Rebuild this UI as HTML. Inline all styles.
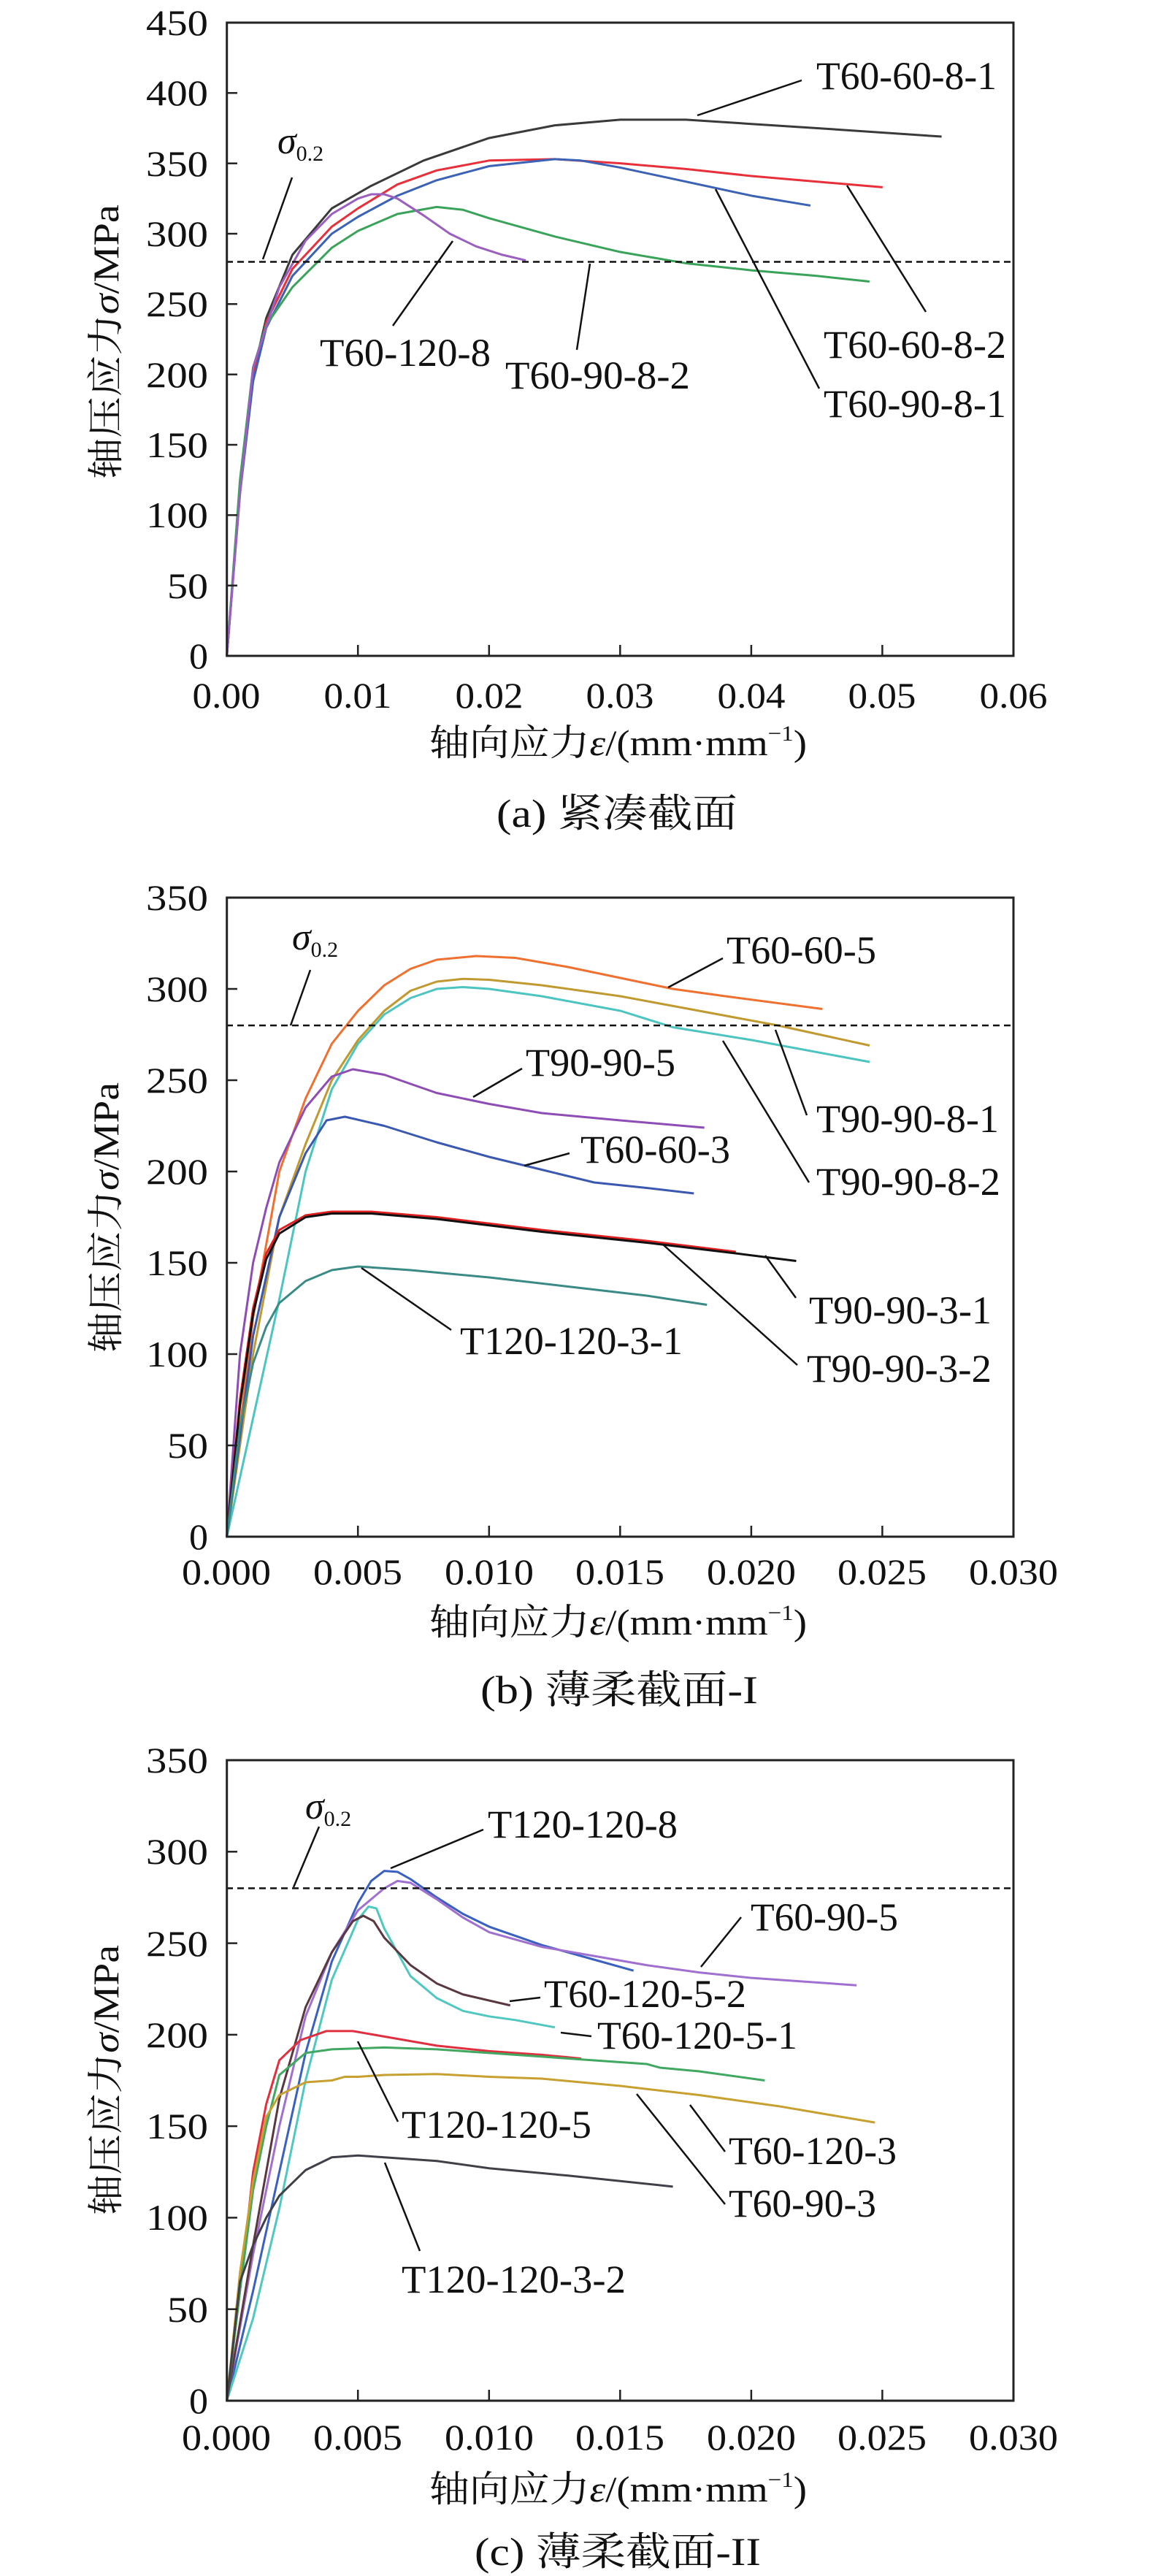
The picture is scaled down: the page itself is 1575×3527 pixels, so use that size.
<!DOCTYPE html>
<html><head><meta charset="utf-8"><style>
html,body{margin:0;padding:0;background:#fff;}
svg{display:block;}
text{font-family:"Liberation Serif","Noto Serif CJK SC",serif;fill:#111;}
.c{fill:none;stroke-width:3;vector-effect:non-scaling-stroke;stroke-linejoin:round;}
.ax{fill:none;stroke:#222;stroke-width:3;}
.ld{stroke:#111;stroke-width:2.5;}
.ds{stroke:#111;stroke-width:2.5;stroke-dasharray:9 6;}
</style></head><body>
<svg width="1575" height="3527" viewBox="0 0 1575 3527" xmlns="http://www.w3.org/2000/svg">
<!-- ================= Chart (a) ================= -->
<g transform="translate(310.7,898) scale(17961.7,-1.9267)">
<polyline class="c" stroke="#3a3a3a" points="0,0 0.001,120 0.002,200 0.003,240 0.005,285 0.008,318 0.011,334 0.015,352 0.02,368 0.025,377 0.03,381 0.035,381 0.04,378 0.045,375 0.0545,369"/>
<polyline class="c" stroke="#e8303a" points="0,0 0.001,118 0.002,198 0.003,237 0.005,275 0.008,305 0.01,318 0.013,335 0.016,345 0.02,352 0.025,353 0.03,350 0.035,346 0.04,341 0.045,337 0.05,333"/>
<polyline class="c" stroke="#3b62b5" points="0,0 0.001,115 0.002,195 0.003,233 0.005,270 0.008,300 0.01,312 0.013,327 0.016,338 0.02,348 0.025,353 0.027,352 0.03,347 0.035,337 0.04,327 0.0445,320"/>
<polyline class="c" stroke="#3aa35a" points="0,0 0.001,125 0.002,205 0.003,235 0.005,262 0.008,290 0.01,302 0.013,314 0.016,319 0.018,317 0.02,311 0.025,298 0.03,287 0.035,279 0.04,274 0.045,270 0.049,266"/>
<polyline class="c" stroke="#9b5fc0" points="0,0 0.001,115 0.002,205 0.004,262 0.006,295 0.008,314 0.01,325 0.011,328 0.012,328 0.013,325 0.015,313 0.017,300 0.019,291 0.021,285 0.0228,281"/>
</g>
<line class="ds" x1="310" y1="358.5" x2="1388" y2="358.5"/>
<rect class="ax" x="310.7" y="31" width="1077.3" height="867"/>
<g stroke="#222" stroke-width="2.5">
<line x1="310" y1="801.7" x2="325" y2="801.7"/><line x1="310" y1="705.3" x2="325" y2="705.3"/><line x1="310" y1="609" x2="325" y2="609"/><line x1="310" y1="512.7" x2="325" y2="512.7"/><line x1="310" y1="416.3" x2="325" y2="416.3"/><line x1="310" y1="320" x2="325" y2="320"/><line x1="310" y1="223.7" x2="325" y2="223.7"/><line x1="310" y1="127.3" x2="325" y2="127.3"/>
<line x1="490.2" y1="898" x2="490.2" y2="883"/><line x1="669.8" y1="898" x2="669.8" y2="883"/><line x1="849.3" y1="898" x2="849.3" y2="883"/><line x1="1028.9" y1="898" x2="1028.9" y2="883"/><line x1="1208.4" y1="898" x2="1208.4" y2="883"/>
</g>
<g font-size="50" text-anchor="end">
<text x="285" y="915" textLength="26" lengthAdjust="spacingAndGlyphs">0</text>
<text x="285" y="819" textLength="56" lengthAdjust="spacingAndGlyphs">50</text>
<text x="285" y="722" textLength="85" lengthAdjust="spacingAndGlyphs">100</text>
<text x="285" y="626" textLength="85" lengthAdjust="spacingAndGlyphs">150</text>
<text x="285" y="530" textLength="85" lengthAdjust="spacingAndGlyphs">200</text>
<text x="285" y="433" textLength="85" lengthAdjust="spacingAndGlyphs">250</text>
<text x="285" y="337" textLength="85" lengthAdjust="spacingAndGlyphs">300</text>
<text x="285" y="241" textLength="85" lengthAdjust="spacingAndGlyphs">350</text>
<text x="285" y="144" textLength="85" lengthAdjust="spacingAndGlyphs">400</text>
<text x="285" y="48" textLength="85" lengthAdjust="spacingAndGlyphs">450</text>
</g>
<g font-size="50" text-anchor="middle">
<text x="310" y="969" textLength="93" lengthAdjust="spacingAndGlyphs">0.00</text>
<text x="490" y="969" textLength="93" lengthAdjust="spacingAndGlyphs">0.01</text>
<text x="670" y="969" textLength="93" lengthAdjust="spacingAndGlyphs">0.02</text>
<text x="849" y="969" textLength="93" lengthAdjust="spacingAndGlyphs">0.03</text>
<text x="1029" y="969" textLength="93" lengthAdjust="spacingAndGlyphs">0.04</text>
<text x="1208" y="969" textLength="93" lengthAdjust="spacingAndGlyphs">0.05</text>
<text x="1388" y="969" textLength="93" lengthAdjust="spacingAndGlyphs">0.06</text>
</g>
<text x="588" y="1034" font-size="50" textLength="517" lengthAdjust="spacingAndGlyphs">轴向应力<tspan font-style="italic">ε</tspan>/(mm·mm<tspan font-size="30" dy="-20">−1</tspan><tspan dy="20">)</tspan></text>
<text transform="translate(162,468) rotate(-90)" text-anchor="middle" font-size="50" textLength="376" lengthAdjust="spacingAndGlyphs">轴压应力<tspan font-style="italic">σ</tspan>/MPa</text>
<text x="845" y="1132" text-anchor="middle" font-size="54" textLength="330" lengthAdjust="spacingAndGlyphs">(a) 紧凑截面</text>
<!-- annotations a -->
<text x="380" y="210" font-size="52" font-style="italic">σ<tspan font-size="30" font-style="normal" dy="10">0.2</tspan></text>
<line class="ld" x1="400" y1="243" x2="360" y2="355"/>
<g font-size="54">
<text x="1118" y="122" textLength="247" lengthAdjust="spacingAndGlyphs">T60-60-8-1</text>
<text x="1128" y="490" textLength="250" lengthAdjust="spacingAndGlyphs">T60-60-8-2</text>
<text x="1128" y="571" textLength="250" lengthAdjust="spacingAndGlyphs">T60-90-8-1</text>
<text x="438" y="501" textLength="234" lengthAdjust="spacingAndGlyphs">T60-120-8</text>
<text x="692" y="532" textLength="253" lengthAdjust="spacingAndGlyphs">T60-90-8-2</text>
</g>
<line class="ld" x1="1098" y1="110" x2="955" y2="158"/>
<line class="ld" x1="1160" y1="254" x2="1268" y2="427"/>
<line class="ld" x1="980" y1="259" x2="1122" y2="532"/>
<line class="ld" x1="620" y1="330" x2="538" y2="446"/>
<line class="ld" x1="808" y1="361" x2="790" y2="479"/>

<!-- ================= Chart (b) ================= -->
<g transform="translate(310.7,2104) scale(35933,-2.5)">
<polyline class="c" stroke="#f07030" points="0,0 0.001,120 0.002,200 0.003,240 0.004,270 0.005,288 0.006,302 0.007,311 0.008,316 0.0095,318 0.011,317 0.013,312 0.015,306 0.017,300 0.019,296 0.0227,289"/>
<polyline class="c" stroke="#c09a30" points="0,0 0.001,100 0.002,175 0.003,215 0.004,250 0.005,272 0.006,288 0.007,299 0.008,304 0.009,305.5 0.01,305 0.012,302 0.015,296 0.018,288 0.021,280 0.0245,269"/>
<polyline class="c" stroke="#4cc4c0" points="0,0 0.001,65 0.002,130 0.003,200 0.004,245 0.005,270 0.006,286 0.007,295 0.008,300 0.009,301 0.01,300 0.012,296 0.015,288 0.017,279 0.02,272 0.0245,260"/>
<polyline class="c" stroke="#8e4db5" points="0,0 0.0005,100 0.001,150 0.0015,180 0.002,205 0.003,235 0.004,252 0.0048,256 0.006,253 0.008,243 0.01,237 0.012,232 0.015,228 0.0182,224"/>
<polyline class="c" stroke="#3a58b0" points="0,0 0.001,110 0.002,175 0.003,210 0.0038,228 0.0045,230 0.006,225 0.008,216 0.01,208 0.012,201 0.014,194 0.016,191 0.0178,188"/>
<polyline class="c" stroke="#e02020" points="0,0 0.0005,75 0.001,125 0.0015,155 0.002,168 0.003,176 0.004,178 0.0055,178 0.008,175 0.012,168 0.016,162 0.0194,156"/>
<polyline class="c" stroke="#111" points="0,0 0.0005,72 0.001,122 0.0015,152 0.002,166 0.003,175 0.004,177 0.0055,177 0.008,174 0.012,167 0.016,161 0.0195,155 0.0217,151"/>
<polyline class="c" stroke="#3a8a85" points="0,0 0.0005,60 0.001,95 0.0015,115 0.002,128 0.003,140 0.004,146 0.005,148 0.007,146 0.01,142 0.013,137 0.016,132 0.0183,127"/>
</g>
<line class="ds" x1="310" y1="1404" x2="1388" y2="1404"/>
<rect class="ax" x="310.7" y="1229" width="1077.3" height="875"/>
<g stroke="#222" stroke-width="2.5">
<line x1="310" y1="1979" x2="325" y2="1979"/><line x1="310" y1="1854" x2="325" y2="1854"/><line x1="310" y1="1729" x2="325" y2="1729"/><line x1="310" y1="1604" x2="325" y2="1604"/><line x1="310" y1="1479" x2="325" y2="1479"/><line x1="310" y1="1354" x2="325" y2="1354"/>
<line x1="490.2" y1="2104" x2="490.2" y2="2089"/><line x1="669.8" y1="2104" x2="669.8" y2="2089"/><line x1="849.3" y1="2104" x2="849.3" y2="2089"/><line x1="1028.9" y1="2104" x2="1028.9" y2="2089"/><line x1="1208.4" y1="2104" x2="1208.4" y2="2089"/>
</g>
<g font-size="50" text-anchor="end">
<text x="285" y="2121" textLength="26" lengthAdjust="spacingAndGlyphs">0</text>
<text x="285" y="1996" textLength="56" lengthAdjust="spacingAndGlyphs">50</text>
<text x="285" y="1871" textLength="85" lengthAdjust="spacingAndGlyphs">100</text>
<text x="285" y="1746" textLength="85" lengthAdjust="spacingAndGlyphs">150</text>
<text x="285" y="1621" textLength="85" lengthAdjust="spacingAndGlyphs">200</text>
<text x="285" y="1496" textLength="85" lengthAdjust="spacingAndGlyphs">250</text>
<text x="285" y="1371" textLength="85" lengthAdjust="spacingAndGlyphs">300</text>
<text x="285" y="1246" textLength="85" lengthAdjust="spacingAndGlyphs">350</text>
</g>
<g font-size="50" text-anchor="middle">
<text x="310" y="2169" textLength="122" lengthAdjust="spacingAndGlyphs">0.000</text>
<text x="490" y="2169" textLength="122" lengthAdjust="spacingAndGlyphs">0.005</text>
<text x="670" y="2169" textLength="122" lengthAdjust="spacingAndGlyphs">0.010</text>
<text x="849" y="2169" textLength="122" lengthAdjust="spacingAndGlyphs">0.015</text>
<text x="1029" y="2169" textLength="122" lengthAdjust="spacingAndGlyphs">0.020</text>
<text x="1208" y="2169" textLength="122" lengthAdjust="spacingAndGlyphs">0.025</text>
<text x="1388" y="2169" textLength="122" lengthAdjust="spacingAndGlyphs">0.030</text>
</g>
<text x="588" y="2238" font-size="50" textLength="517" lengthAdjust="spacingAndGlyphs">轴向应力<tspan font-style="italic">ε</tspan>/(mm·mm<tspan font-size="30" dy="-20">−1</tspan><tspan dy="20">)</tspan></text>
<text transform="translate(162,1667) rotate(-90)" text-anchor="middle" font-size="50" textLength="370" lengthAdjust="spacingAndGlyphs">轴压应力<tspan font-style="italic">σ</tspan>/MPa</text>
<text x="848" y="2332" text-anchor="middle" font-size="54" textLength="380" lengthAdjust="spacingAndGlyphs">(b) 薄柔截面-I</text>
<text x="400" y="1300" font-size="52" font-style="italic">σ<tspan font-size="30" font-style="normal" dy="10">0.2</tspan></text>
<line class="ld" x1="425" y1="1328" x2="398" y2="1404"/>
<g font-size="54">
<text x="995" y="1319" textLength="205" lengthAdjust="spacingAndGlyphs">T60-60-5</text>
<text x="720" y="1473" textLength="205" lengthAdjust="spacingAndGlyphs">T90-90-5</text>
<text x="795" y="1592" textLength="205" lengthAdjust="spacingAndGlyphs">T60-60-3</text>
<text x="1118" y="1550" textLength="250" lengthAdjust="spacingAndGlyphs">T90-90-8-1</text>
<text x="1118" y="1636" textLength="252" lengthAdjust="spacingAndGlyphs">T90-90-8-2</text>
<text x="1108" y="1812" textLength="250" lengthAdjust="spacingAndGlyphs">T90-90-3-1</text>
<text x="1105" y="1892" textLength="253" lengthAdjust="spacingAndGlyphs">T90-90-3-2</text>
<text x="630" y="1854" textLength="305" lengthAdjust="spacingAndGlyphs">T120-120-3-1</text>
</g>
<line class="ld" x1="990" y1="1312" x2="915" y2="1352"/>
<line class="ld" x1="715" y1="1463" x2="648" y2="1502"/>
<line class="ld" x1="780" y1="1579" x2="718" y2="1596"/>
<line class="ld" x1="1105" y1="1527" x2="1062" y2="1410"/>
<line class="ld" x1="1108" y1="1619" x2="990" y2="1425"/>
<line class="ld" x1="1090" y1="1777" x2="1048" y2="1719"/>
<line class="ld" x1="1092" y1="1869" x2="908" y2="1704"/>
<line class="ld" x1="618" y1="1821" x2="495" y2="1736"/>

<!-- ================= Chart (c) ================= -->
<g transform="translate(310.7,3287) scale(35933,-2.5057)">
<polyline class="c" stroke="#3a60c0" points="0,0 0.001,60 0.002,125 0.003,190 0.004,240 0.005,272 0.0055,284 0.006,289.5 0.0065,289 0.007,285 0.008,275 0.009,266 0.01,259 0.012,249 0.014,241 0.0155,235"/>
<polyline class="c" stroke="#a070d0" points="0,0 0.001,80 0.002,150 0.003,210 0.004,245 0.005,268 0.006,280 0.0065,284 0.007,283 0.008,274 0.009,264 0.01,256 0.012,248 0.014,243 0.016,238 0.018,234 0.02,231 0.024,227"/>
<polyline class="c" stroke="#50c8c0" points="0,0 0.001,45 0.002,105 0.003,175 0.004,230 0.005,263 0.0054,270 0.0057,269 0.006,258 0.0065,245 0.007,232 0.008,220 0.009,213 0.01,210 0.011,208 0.0125,204"/>
<polyline class="c" stroke="#5a3840" points="0,0 0.001,85 0.002,165 0.003,215 0.004,245 0.0048,262 0.0052,265 0.0056,262 0.006,253 0.007,238 0.008,228 0.009,222 0.0108,216"/>
<polyline class="c" stroke="#e03040" points="0,0 0.0005,60 0.001,125 0.0015,162 0.002,186 0.0028,197 0.0038,202 0.0048,202 0.006,199 0.008,194 0.01,191 0.012,189 0.0135,187"/>
<polyline class="c" stroke="#40a860" points="0,0 0.0005,60 0.001,115 0.0015,150 0.002,178 0.003,190 0.004,192 0.006,193 0.008,192 0.01,190 0.012,188 0.015,185 0.016,184 0.0165,182 0.018,180 0.0205,175"/>
<polyline class="c" stroke="#c8a030" points="0,0 0.0005,70 0.001,120 0.0015,155 0.002,167 0.003,174 0.004,175 0.0045,177 0.005,177 0.006,178 0.008,178.5 0.01,177 0.012,176 0.015,172 0.018,167 0.021,161 0.0247,152"/>
<polyline class="c" stroke="#404048" points="0,0 0.0005,65 0.001,85 0.0015,100 0.002,112 0.003,126 0.004,133 0.005,134 0.006,133 0.008,131 0.01,127 0.013,123 0.017,117"/>
</g>
<line class="ds" x1="310" y1="2585.4" x2="1388" y2="2585.4"/>
<rect class="ax" x="310.7" y="2410" width="1077.3" height="877"/>
<g stroke="#222" stroke-width="2.5">
<line x1="310" y1="3161.7" x2="325" y2="3161.7"/><line x1="310" y1="3036.4" x2="325" y2="3036.4"/><line x1="310" y1="2911.1" x2="325" y2="2911.1"/><line x1="310" y1="2785.9" x2="325" y2="2785.9"/><line x1="310" y1="2660.6" x2="325" y2="2660.6"/><line x1="310" y1="2535.3" x2="325" y2="2535.3"/>
<line x1="490.2" y1="3287" x2="490.2" y2="3272"/><line x1="669.8" y1="3287" x2="669.8" y2="3272"/><line x1="849.3" y1="3287" x2="849.3" y2="3272"/><line x1="1028.9" y1="3287" x2="1028.9" y2="3272"/><line x1="1208.4" y1="3287" x2="1208.4" y2="3272"/>
</g>
<g font-size="50" text-anchor="end">
<text x="285" y="3304" textLength="26" lengthAdjust="spacingAndGlyphs">0</text>
<text x="285" y="3179" textLength="56" lengthAdjust="spacingAndGlyphs">50</text>
<text x="285" y="3053" textLength="85" lengthAdjust="spacingAndGlyphs">100</text>
<text x="285" y="2928" textLength="85" lengthAdjust="spacingAndGlyphs">150</text>
<text x="285" y="2803" textLength="85" lengthAdjust="spacingAndGlyphs">200</text>
<text x="285" y="2678" textLength="85" lengthAdjust="spacingAndGlyphs">250</text>
<text x="285" y="2552" textLength="85" lengthAdjust="spacingAndGlyphs">300</text>
<text x="285" y="2427" textLength="85" lengthAdjust="spacingAndGlyphs">350</text>
</g>
<g font-size="50" text-anchor="middle">
<text x="310" y="3354" textLength="122" lengthAdjust="spacingAndGlyphs">0.000</text>
<text x="490" y="3354" textLength="122" lengthAdjust="spacingAndGlyphs">0.005</text>
<text x="670" y="3354" textLength="122" lengthAdjust="spacingAndGlyphs">0.010</text>
<text x="849" y="3354" textLength="122" lengthAdjust="spacingAndGlyphs">0.015</text>
<text x="1029" y="3354" textLength="122" lengthAdjust="spacingAndGlyphs">0.020</text>
<text x="1208" y="3354" textLength="122" lengthAdjust="spacingAndGlyphs">0.025</text>
<text x="1388" y="3354" textLength="122" lengthAdjust="spacingAndGlyphs">0.030</text>
</g>
<text x="588" y="3425" font-size="50" textLength="517" lengthAdjust="spacingAndGlyphs">轴向应力<tspan font-style="italic">ε</tspan>/(mm·mm<tspan font-size="30" dy="-20">−1</tspan><tspan dy="20">)</tspan></text>
<text transform="translate(162,2848) rotate(-90)" text-anchor="middle" font-size="50" textLength="370" lengthAdjust="spacingAndGlyphs">轴压应力<tspan font-style="italic">σ</tspan>/MPa</text>
<text x="846" y="3512" text-anchor="middle" font-size="54" textLength="392" lengthAdjust="spacingAndGlyphs">(c) 薄柔截面-II</text>
<text x="418" y="2490" font-size="52" font-style="italic">σ<tspan font-size="30" font-style="normal" dy="10">0.2</tspan></text>
<line class="ld" x1="437" y1="2501" x2="402" y2="2584"/>
<g font-size="54">
<text x="668" y="2516" textLength="260" lengthAdjust="spacingAndGlyphs">T120-120-8</text>
<text x="1028" y="2643" textLength="202" lengthAdjust="spacingAndGlyphs">T60-90-5</text>
<text x="745" y="2748" textLength="277" lengthAdjust="spacingAndGlyphs">T60-120-5-2</text>
<text x="818" y="2805" textLength="274" lengthAdjust="spacingAndGlyphs">T60-120-5-1</text>
<text x="550" y="2927" textLength="260" lengthAdjust="spacingAndGlyphs">T120-120-5</text>
<text x="998" y="2963" textLength="230" lengthAdjust="spacingAndGlyphs">T60-120-3</text>
<text x="998" y="3035" textLength="202" lengthAdjust="spacingAndGlyphs">T60-90-3</text>
<text x="550" y="3139" textLength="307" lengthAdjust="spacingAndGlyphs">T120-120-3-2</text>
</g>
<line class="ld" x1="662" y1="2505" x2="535" y2="2558"/>
<line class="ld" x1="1015" y1="2625" x2="960" y2="2693"/>
<line class="ld" x1="740" y1="2735" x2="698" y2="2740"/>
<line class="ld" x1="810" y1="2788" x2="768" y2="2783"/>
<line class="ld" x1="545" y1="2905" x2="490" y2="2795"/>
<line class="ld" x1="993" y1="2946" x2="945" y2="2882"/>
<line class="ld" x1="993" y1="3018" x2="872" y2="2867"/>
<line class="ld" x1="575" y1="3082" x2="527" y2="2961"/>
</svg>
</body></html>
